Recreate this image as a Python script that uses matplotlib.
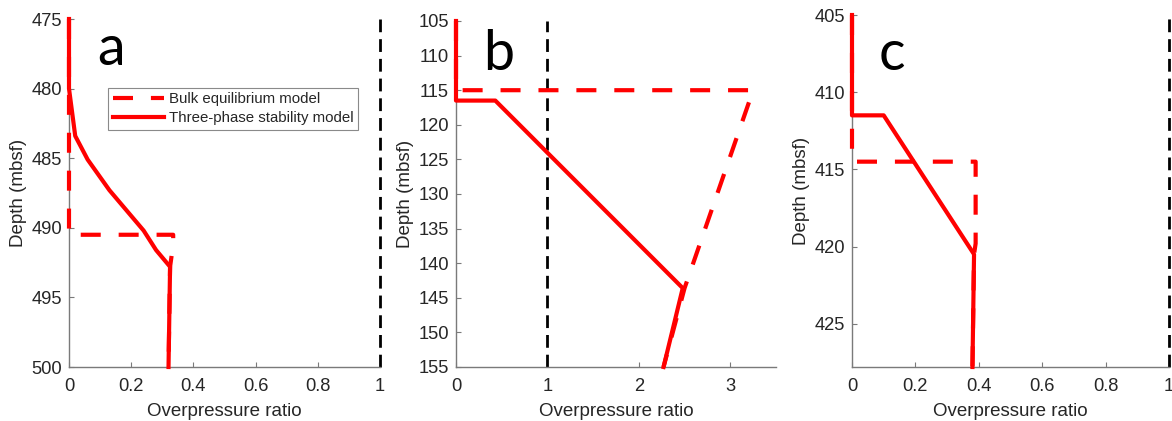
import matplotlib
matplotlib.use("Agg")
import matplotlib.pyplot as plt

# ---------------- data ----------------
# Panel a
a_bulk_x = [0, 0, 0.335, 0.335, 0.325, 0.32]
a_bulk_y = [475, 490.5, 490.5, 491.2, 492.8, 500]
a_three_x = [0, 0, 0.02, 0.06, 0.13, 0.24, 0.28, 0.325, 0.32]
a_three_y = [475, 480, 483.4, 485.1, 487.3, 490.2, 491.6, 492.8, 500]

# Panel b
b_bulk_x = [0, 0, 3.25, 2.5, 2.27]
b_bulk_y = [105, 115, 115, 143.6, 155]
b_three_x = [0, 0, 0.43, 2.48, 2.27]
b_three_y = [105, 116.5, 116.5, 143.6, 155]

# Panel c
c_bulk_x = [0, 0, 0.39, 0.39, 0.385, 0.38]
c_bulk_y = [405, 414.5, 414.5, 419.8, 420.5, 427.8]
c_three_x = [0, 0, 0.1, 0.385, 0.38]
c_three_y = [405, 411.5, 411.5, 420.5, 427.8]

ratio_one = 1.0

panel_letters = ["a", "b", "c"]
a_xticks = [0, 0.2, 0.4, 0.6, 0.8, 1]
a_xticklabels = ["0", "0.2", "0.4", "0.6", "0.8", "1"]
a_yticks = [475, 480, 485, 490, 495, 500]
b_xticks = [0, 1, 2, 3]
b_xticklabels = ["0", "1", "2", "3"]
b_yticks = [105, 110, 115, 120, 125, 130, 135, 140, 145, 150, 155]
c_xticks = a_xticks
c_xticklabels = a_xticklabels
c_yticks = [405, 410, 415, 420, 425]

legend_labels = ["Bulk equilibrium model", "Three-phase stability model"]
xlabel = "Overpressure ratio"
ylabel = "Depth (mbsf)"

# ---------------- figure ----------------
W, H = 1172, 421
plt.rcParams['font.family'] = ['Liberation Sans', 'DejaVu Sans']
fig = plt.figure(figsize=(W / 100, H / 100), dpi=100)


def pos(l, r, t, b):
    return [l / W, 1 - b / H, (r - l) / W, (b - t) / H]


TXT = '#262626'
AXC = '#7a7a7a'
RED = '#ff0000'
DASH_RED = (0, (4.8, 4.3))
DASH_BLK = (0, (4.6, 2.5))


def style(ax, xlim, ylim, xticks, xtl, yticks):
    ax.set_xlim(*xlim)
    ax.set_ylim(ylim[1], ylim[0])
    ax.set_xticks(xticks)
    ax.set_xticklabels(xtl)
    ax.set_yticks(yticks)
    for s in ['top', 'right']:
        ax.spines[s].set_visible(False)
    for s in ['left', 'bottom']:
        ax.spines[s].set_color(AXC)
        ax.spines[s].set_linewidth(1.0)
    ax.tick_params(direction='in', length=3.5, width=0.8, color=AXC,
                   labelcolor=TXT, labelsize=13.2)
    ax.tick_params(axis='x', pad=8)
    ax.tick_params(axis='y', pad=5)
    ax.set_xlabel(xlabel, fontsize=13.5, color=TXT, labelpad=6)
    ax.set_ylabel(ylabel, fontsize=13.5, color=TXT, labelpad=3)


axes_specs = [
    (pos(69, 380, 19, 367), (0, 1), (475, 500), a_xticks, a_xticklabels, a_yticks,
     a_bulk_x, a_bulk_y, a_three_x, a_three_y),
    (pos(456, 776, 21, 367), (0, 3.5), (105, 155), b_xticks, b_xticklabels, b_yticks,
     b_bulk_x, b_bulk_y, b_three_x, b_three_y),
    (pos(852, 1169, 15, 367), (0, 1), (405, 427.8), c_xticks, c_xticklabels, c_yticks,
     c_bulk_x, c_bulk_y, c_three_x, c_three_y),
]

letter_pos = [(111, 65), (499, 70), (892, 70)]

axes = []
for i, (p, xl, yl, xt, xtl, yt, bx, by, tx, ty) in enumerate(axes_specs):
    ax = fig.add_axes(p)
    style(ax, xl, yl, xt, xtl, yt)
    ax.axvline(ratio_one, color='black', lw=2.0, linestyle=DASH_BLK, clip_on=False, zorder=2)
    ax.plot(bx, by, color=RED, lw=3.0, linestyle=DASH_RED, clip_on=False,
            solid_capstyle='butt', dash_capstyle='butt', label=legend_labels[0], zorder=3)
    ax.plot(tx, ty, color=RED, lw=3.0, clip_on=False, label=legend_labels[1], zorder=4)
    lx, ly = letter_pos[i]
    fig.text(lx / W, 1 - ly / H, panel_letters[i], fontsize=40, family=['Lato', 'DejaVu Sans'],
             color='black', ha='center', va='baseline')
    axes.append(ax)

leg = axes[0].legend(loc='upper left', bbox_to_anchor=((108 - 69) / 311, 1 - (88 - 19) / 348),
                     borderaxespad=0, fontsize=10.8, handlelength=3.4, handletextpad=0.35,
                     labelspacing=0.3, borderpad=0.3, fancybox=False, framealpha=1)
leg.get_frame().set_edgecolor('#8a8a8a')
leg.get_frame().set_linewidth(0.8)
for t in leg.get_texts():
    t.set_color(TXT)

fig.savefig('out.png', dpi=100)
